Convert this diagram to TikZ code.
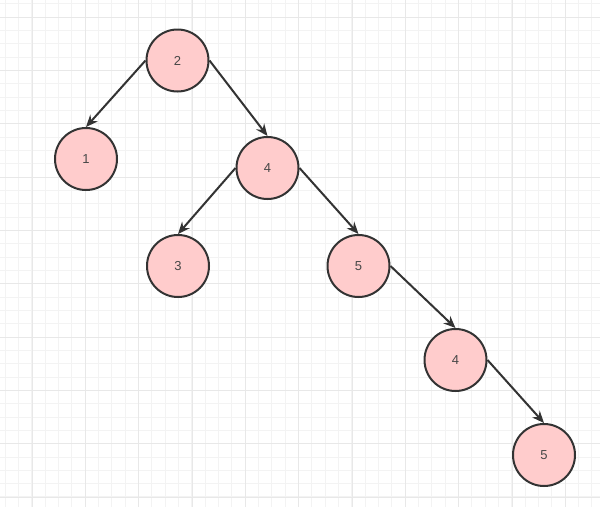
\documentclass[tikz,border=0pt]{standalone}
\usepackage{fontspec}
\setmainfont{Liberation Sans}
\usetikzlibrary{arrows.meta}
\definecolor{nodefill}{HTML}{FFCCCC}
\definecolor{nodeline}{HTML}{333333}
\definecolor{gridminor}{HTML}{F3F3F3}
\definecolor{gridmajor}{HTML}{E8E8E8}
\tikzset{
  bst/.style={circle, draw=nodeline, fill=nodefill, line width=2pt, minimum size=62pt, inner sep=0pt,
    font=\fontsize{13}{15}\selectfont, text=nodeline!90},
  link/.style={draw=nodeline, line width=2pt, -{Stealth[length=12pt,width=10pt]}}
}
\begin{document}
\begin{tikzpicture}[x=1pt,y=-1pt]
\useasboundingbox (0,0) rectangle (600,507);
\fill[white] (0,0) rectangle (600,507);
\foreach \i in {0,...,45} {
  \pgfmathsetmacro{\xx}{5.33+13.333*\i}
  \pgfmathsetmacro{\yy}{3.67+13.333*\i}
  \draw[gridminor, line width=1pt] (\xx,0) -- (\xx,507);
  \draw[gridminor, line width=1pt] (0,\yy) -- (600,\yy);
}
\foreach \i in {0,...,11} {
  \pgfmathsetmacro{\xx}{32+53.333*\i}
  \pgfmathsetmacro{\yy}{17+53.333*\i}
  \draw[gridmajor, line width=1pt] (\xx,0) -- (\xx,507);
  \draw[gridmajor, line width=1pt] (0,\yy) -- (600,\yy);
}
\node[bst] (n2) at (177.5,60.5) {2};
\node[bst] (n1) at (86,159) {1};
\node[bst] (n4) at (267.5,168) {4};
\node[bst] (n3) at (178,266) {3};
\node[bst] (n5) at (358.5,266) {5};
\node[bst] (n4b) at (455.5,360) {4};
\node[bst] (n5b) at (544,455) {5};
\draw[link] (n2.west) -- (n1.north);
\draw[link] (n2.east) -- (n4.north);
\draw[link] (n4.west) -- (n3.north);
\draw[link] (n4.east) -- (n5.north);
\draw[link] (n5.east) -- (n4b.north);
\draw[link] (n4b.east) -- (n5b.north);
\end{tikzpicture}
\end{document}
